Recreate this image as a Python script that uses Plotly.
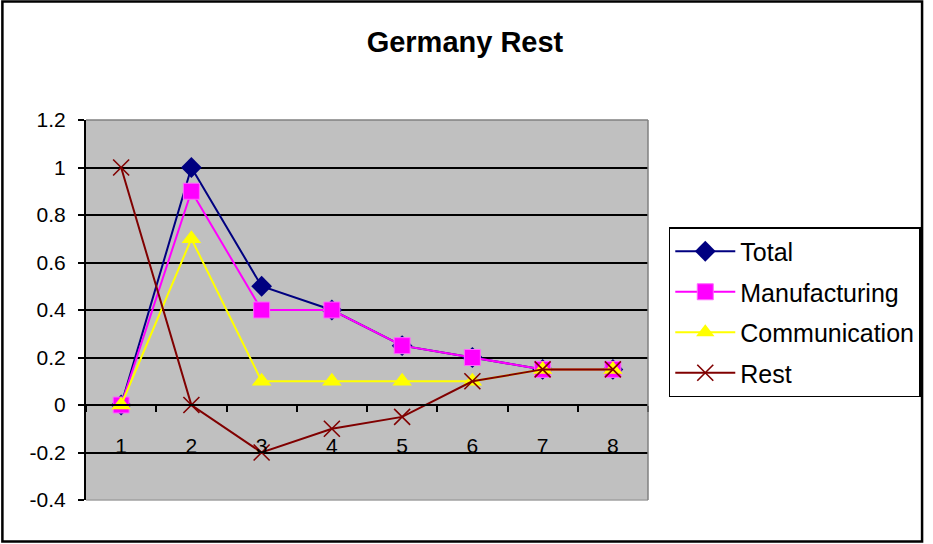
import plotly.graph_objects as go

# ------------------------------------------------------------------ #
# Data
# ------------------------------------------------------------------ #
categories = ["1", "2", "3", "4", "5", "6", "7", "8"]
total = [0, 1.0, 0.5, 0.4, 0.25, 0.2, 0.15, 0.15]
manufacturing = [0, 0.9, 0.4, 0.4, 0.25, 0.2, 0.15, 0.15]
communication = [0, 0.7, 0.1, 0.1, 0.1, 0.1, 0.15, 0.15]
rest = [1.0, 0, -0.2, -0.1, -0.05, 0.1, 0.15, 0.15]

y_tickvals = [-0.4, -0.2, 0, 0.2, 0.4, 0.6, 0.8, 1.0, 1.2]
y_ticktext = ["-0.4", "-0.2", "0", "0.2", "0.4", "0.6", "0.8", "1", "1.2"]

FONT = "Arial, Liberation Sans, sans-serif"

# plot area in pixels: left 86, right 654, top 120, bottom 500
W, H = 933, 544
L, R, T, B = 86, 654, 120, 500
pw, ph = R - L, B - T


def px_x(x):
    return (x - L) / pw


def px_y(y):
    return (B - y) / ph


fig = go.Figure()

series = [
    ("Total", total, "#000080", dict(symbol="diamond", size=16, color="#000080")),
    ("Manufacturing", manufacturing, "#FF00FF",
     dict(symbol="square", size=16, color="#FF00FF", line=dict(color="#FF66FF", width=1))),
    ("Communication", communication, "#FFFF00", dict(symbol="triangle-up", size=17, color="#FFFF00")),
    ("Rest", rest, "#800000",
     dict(symbol="x-thin", size=16, color="#800000", line=dict(color="#800000", width=1.6))),
]

for name, vals, color, marker in series:
    fig.add_trace(
        go.Scatter(
            x=categories,
            y=vals,
            name=name,
            legendgroup=name,
            mode="lines+markers",
            line=dict(color=color, width=2),
            marker=marker,
        )
    )

# ------------------------------------------------------------------ #
# Frame lines: plot-area border (grey) and outer chart border (black)
# ------------------------------------------------------------------ #
fig.add_shape(type="line", xref="paper", yref="paper", x0=0, x1=1, y0=1, y1=1,
              line=dict(color="#808080", width=1.5))
fig.add_shape(type="line", xref="paper", yref="paper", x0=0, x1=1, y0=0, y1=0,
              line=dict(color="#A0A0A0", width=1.5))
fig.add_shape(type="line", xref="paper", yref="paper", x0=1, x1=1, y0=0, y1=1,
              line=dict(color="#808080", width=1.5))
fig.add_shape(type="rect", xref="paper", yref="paper",
              x0=px_x(1.5), x1=px_x(931), y0=px_y(541.5), y1=px_y(1.5),
              line=dict(color="black", width=2.5), layer="above")

fig.update_layout(
    width=W,
    height=H,
    margin=dict(l=L, r=W - R, t=T, b=H - B),
    paper_bgcolor="white",
    plot_bgcolor="#C0C0C0",
    font=dict(family=FONT, color="black", size=20),
    title=dict(
        text="<b>Germany Rest</b>",
        x=px_x(469), xref="paper", xanchor="center",
        y=1 - 42 / H, yanchor="middle",
        font=dict(family=FONT, size=29, color="black"),
    ),
    xaxis=dict(
        type="category",
        range=[-0.5, 7.5],
        anchor="free",
        position=0.25,
        showline=True,
        linecolor="black",
        linewidth=2,
        ticks="outside",
        tickson="boundaries",
        ticklen=6,
        tickwidth=1.5,
        tickcolor="black",
        showgrid=False,
        ticklabelstandoff=22,
        tickfont=dict(family=FONT, size=21),
        fixedrange=True,
    ),
    yaxis=dict(
        range=[-0.4, 1.2],
        tickvals=y_tickvals,
        ticktext=y_ticktext,
        showline=True,
        linecolor="black",
        linewidth=2,
        ticks="outside",
        ticklen=6,
        tickwidth=1.5,
        tickcolor="black",
        showgrid=True,
        gridcolor="black",
        gridwidth=1.5,
        zeroline=False,
        ticklabelstandoff=8,
        tickfont=dict(family=FONT, size=21),
        fixedrange=True,
    ),
    legend=dict(
        x=px_x(675), y=px_y(227), xanchor="left", yanchor="top",
        bgcolor="white", bordercolor="black", borderwidth=1.5,
        font=dict(family=FONT, size=25),
        tracegroupgap=5,
        itemwidth=60,
    ),
    showlegend=True,
)

fig.write_html(
    "out.html",
    config={"displayModeBar": False},
    post_script=(
        "document.body.style.margin='0';"
        "document.body.style.overflow='hidden';"
        "document.documentElement.style.overflow='hidden';"
    ),
)
